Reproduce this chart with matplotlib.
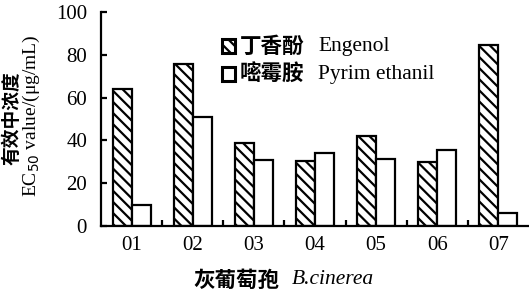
import matplotlib
matplotlib.use("Agg")
import matplotlib.pyplot as plt
import numpy as np
from matplotlib.patches import Rectangle

categories = ["01", "02", "03", "04", "05", "06", "07"]
eugenol = [64, 75.5, 39, 30.5, 42, 30, 84.5]
pyrimethanil = [10, 51, 31, 34, 31.5, 35.5, 6]
yticks = [0, 20, 40, 60, 80, 100]

plt.rcParams['hatch.linewidth'] = 1.6
serif = ['Liberation Serif', 'DejaVu Serif']
cjk = ['Noto Sans CJK SC', 'DejaVu Sans']

fig = plt.figure(figsize=(5.29, 2.94), dpi=100)
ax = fig.add_axes([101/529, (294-226)/294, 428/529, 214/294])

x = np.arange(len(categories))
w = 0.31
ax.bar(x - w/2, eugenol, w, facecolor='white', edgecolor='black', hatch='\\\\\\', linewidth=1.6)
ax.bar(x + w/2, pyrimethanil, w, facecolor='white', edgecolor='black', linewidth=1.6)

ax.set_xlim(-0.5, len(categories) - 0.5)
ax.set_ylim(0, 100)
ax.set_yticks(yticks)
ax.set_yticklabels([str(v) for v in yticks], family=serif, fontsize=15)
ax.set_xticks(x)
ax.set_xticklabels(categories, family=serif, fontsize=15)
ax.tick_params(axis='x', length=0, pad=7)
ax.set_xticks(np.arange(len(categories) - 1) + 0.5, minor=True)
ax.tick_params(axis='x', which='minor', direction='in', length=4, width=1.6)
ax.tick_params(axis='y', direction='in', length=4, width=1.6, pad=10)
for s in ['top', 'right']:
    ax.spines[s].set_visible(False)
for s in ['left', 'bottom']:
    ax.spines[s].set_linewidth(1.6)

# y label (two lines)
fig.text(12.5/529, 1 - 118/294, "有效中浓度", rotation=90, ha='center', va='center',
         family=cjk, fontweight='heavy', fontsize=13.5)
fig.text(31/529, 1 - 116/294, r"EC$_{50}$ value/(μg/mL)", rotation=90, ha='center', va='center',
         family=serif, fontsize=14)

# x label
fig.text(193/529, 1 - 280/294, "灰葡萄孢", ha='left', va='center', family=cjk, fontweight='heavy', fontsize=15.5)
fig.text(292/529, 1 - 280/294, "B.cinerea", ha='left', va='center', family=serif, style='italic', fontsize=15.5)

# legend
for yy, hatch, cn, en in [(46, '\\\\\\', "丁香酚", "Engenol"), (74, None, "嘧霉胺", "Pyrim ethanil")]:
    r = Rectangle((222/529, 1 - (yy + 6.5)/294), 13/529, 13/294, transform=fig.transFigure,
                  facecolor='white', edgecolor='black', linewidth=2.2, hatch=hatch)
    fig.patches.append(r)
    fig.text(240/529, 1 - yy/294, cn, ha='left', va='center', family=cjk, fontweight='heavy', fontsize=15.5)
    fig.text(318/529, 1 - yy/294, en, ha='left', va='center', family=serif, fontsize=15.5)

fig.savefig("out.png", dpi=100)
